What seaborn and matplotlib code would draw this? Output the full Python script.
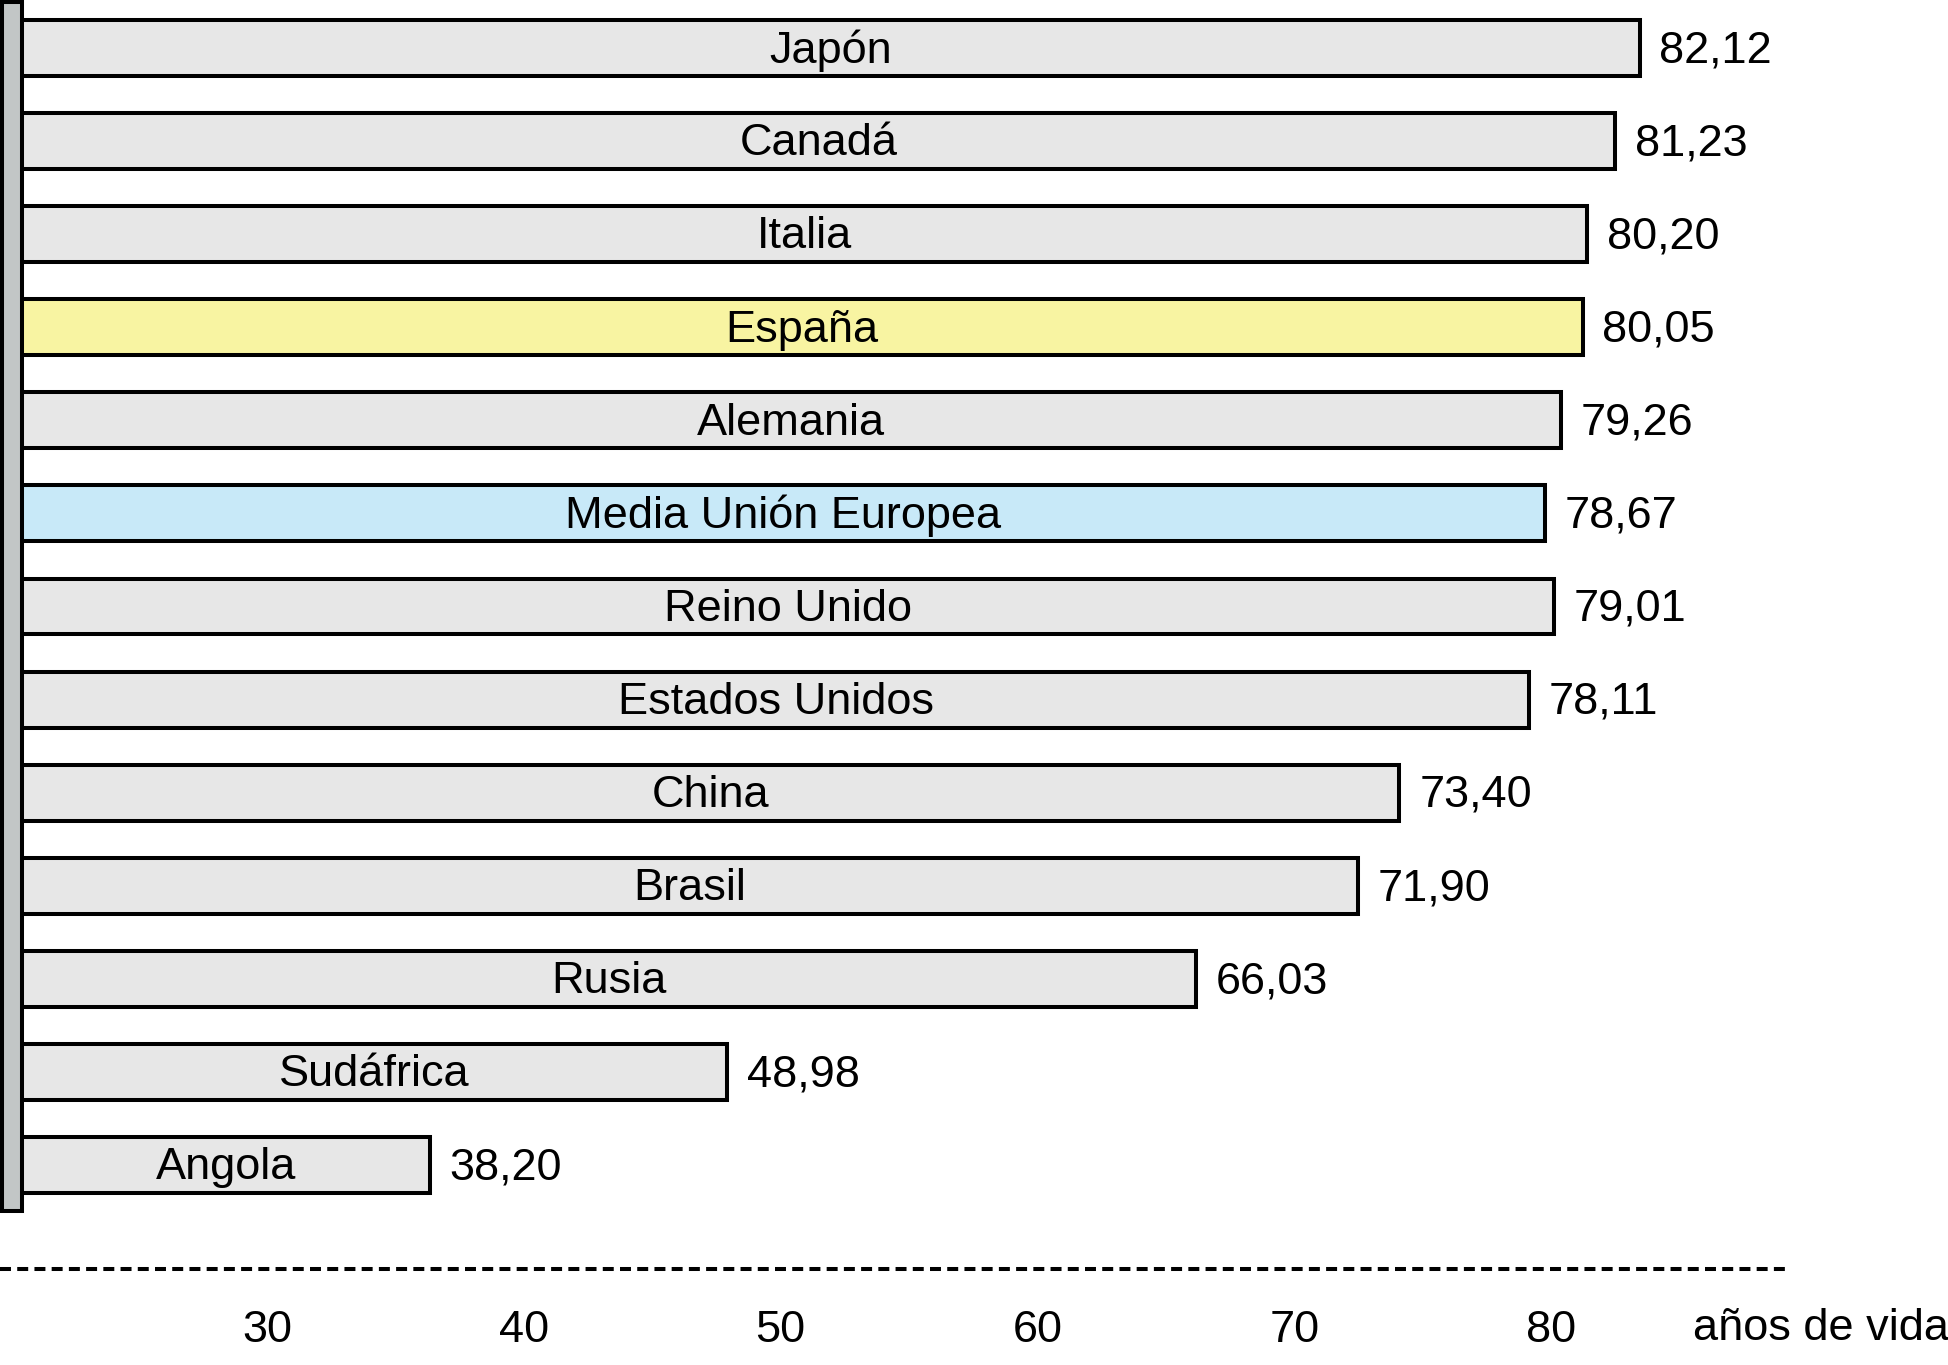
import matplotlib
matplotlib.use("Agg")
import matplotlib.pyplot as plt
from matplotlib.patches import Rectangle
import seaborn as sns
import pandas as pd

# ---- data ----
countries = ["Japón", "Canadá", "Italia", "España", "Alemania", "Media Unión Europea",
             "Reino Unido", "Estados Unidos", "China", "Brasil", "Rusia", "Sudáfrica", "Angola"]
life_years = [82.12, 81.23, 80.20, 80.05, 79.26, 78.67, 79.01, 78.11, 73.40, 71.90, 66.03, 48.98, 38.20]
bar_colors = ["#e7e7e7", "#e7e7e7", "#e7e7e7", "#f8f4a2", "#e7e7e7", "#c8e9f8",
              "#e7e7e7", "#e7e7e7", "#e7e7e7", "#e7e7e7", "#e7e7e7", "#e7e7e7", "#e7e7e7"]
scale_ticks = [30, 40, 50, 60, 70, 80]
axis_label = "años de vida"

sns.set_theme(style="white")
plt.rcParams["font.family"] = ["Liberation Sans", "DejaVu Sans"]
plt.rcParams["lines.scale_dashes"] = False

W, H = 1949, 1365
fig = plt.figure(figsize=(W / 100, H / 100), dpi=100)
fig.patch.set_facecolor("white")

LW = 2.9  # ~4 px outlines
FS = 32.5

# main bar axes
ax = fig.add_axes([22 / W, 1 - 1211.6 / H, 1 - 22 / W, (1211.6 - 1.4) / H])
df = pd.DataFrame({"pais": countries, "anos": life_years})
sns.barplot(data=df, x="anos", y="pais", hue="pais", palette=bar_colors,
            order=countries, hue_order=countries, legend=False, orient="h",
            width=0.6, edgecolor="black", linewidth=LW, saturation=1, ax=ax)
ax.set_xlim(23.4, 93.35)
ax.set_ylim(len(countries) - 0.5, -0.5)
for s in ax.spines.values():
    s.set_visible(False)
ax.set_xticks([])
ax.set_yticks([])
ax.set_xlabel("")
ax.set_ylabel("")
ax.patch.set_alpha(0)

x0 = ax.get_xlim()[0]
for i, (c, v) in enumerate(zip(countries, life_years)):
    ax.text((x0 + v) / 2, i + 0.03, c, ha="center", va="center", fontsize=FS, color="black")
    ax.text(v + 0.72, i + 0.03, f"{v:.2f}".replace(".", ","), ha="left", va="center",
            fontsize=FS, color="black")

# left post
fig.add_artist(Rectangle((2 / W, 1 - 1211 / H), 20 / W, 1209 / H,
                         transform=fig.transFigure, facecolor="#c2c6c6",
                         edgecolor="black", linewidth=LW, zorder=5))

# scale axes with dashed rule
ax2 = fig.add_axes([0, 1 - 1268.5 / H, 1787 / W, 0.001])
ax2.set_xlim(19.60, 89.19)
ax2.set_ylim(0, 1)
ax2.axhline(0, color="black", linewidth=LW, linestyle=(0, (7.9, 4.5)), clip_on=False)
for s in ax2.spines.values():
    s.set_visible(False)
ax2.patch.set_alpha(0)
ax2.set_yticks([])
ax2.set_xticks(scale_ticks)
ax2.set_xticklabels([str(t) for t in scale_ticks], fontsize=FS)
ax2.tick_params(axis="x", length=0, pad=30, colors="black")

fig.text(1693 / W, 1 - 1328 / H, axis_label, ha="left", va="center", fontsize=FS, color="black")

fig.savefig("out.png", dpi=100)
